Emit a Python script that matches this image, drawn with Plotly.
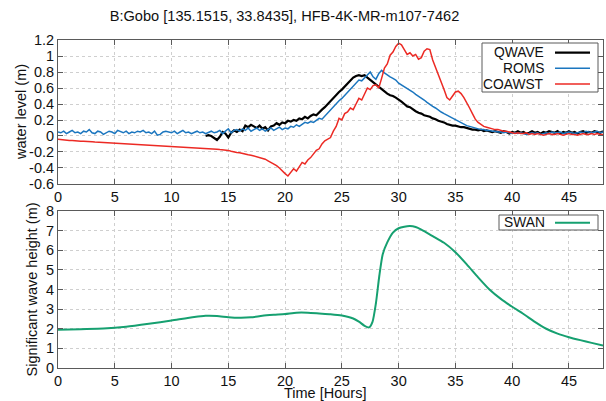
import numpy as np
import plotly.graph_objects as go

# ---------------- data ----------------
hours_full = np.arange(0, 48.001, 0.25)   # ROMS / COAWST time axis
hours_qwave = np.arange(13, 48.001, 0.25)  # QWAVE time axis

roms = [
    0.05, 0.04, 0.06, 0.03, 0.05, 0.07, 0.04, 0.05,
    0.03, 0.06, 0.05, 0.08, 0.04, 0.03, 0.06, 0.05,
    0.02, 0.04, 0.06, 0.05, 0.03, 0.07, 0.05, 0.04,
    0.06, 0.03, 0.05, 0.04, 0.06, 0.05, 0.07, 0.04,
    0.05, 0.03, 0.06, 0.01, 0.02, 0.05, 0.06, 0.05,
    0.04, 0.06, 0.03, 0.05, 0.07, 0.04, 0.05, 0.03,
    0.05, 0.06, 0.04, 0.05, 0.03, 0.05, 0.06, 0.04,
    0.05, 0.07, 0.03, 0.06, 0.09, 0.04, 0.07, 0.08,
    0.06, 0.09, 0.07, 0.10, 0.06, 0.08, 0.10, 0.07,
    0.09, 0.06, 0.08, 0.10, 0.07, 0.09, 0.11, 0.08,
    0.10, 0.09, 0.12, 0.11, 0.14, 0.12, 0.15, 0.17,
    0.16, 0.18, 0.17, 0.20, 0.22, 0.21, 0.25, 0.28,
    0.32, 0.36, 0.40, 0.44, 0.47, 0.51, 0.55, 0.58,
    0.63, 0.66, 0.70, 0.69, 0.73, 0.76, 0.80, 0.74,
    0.71, 0.78, 0.82, 0.79, 0.76, 0.74, 0.72, 0.70,
    0.66, 0.64, 0.62, 0.60, 0.57, 0.55, 0.52, 0.50,
    0.47, 0.45, 0.42, 0.39, 0.37, 0.35, 0.32, 0.30,
    0.28, 0.26, 0.24, 0.22, 0.20, 0.18, 0.16, 0.15,
    0.13, 0.12, 0.11, 0.10, 0.09, 0.08, 0.08, 0.07,
    0.07, 0.06, 0.06, 0.05, 0.05, 0.04, 0.05, 0.04,
    0.03, 0.04, 0.03, 0.04, 0.03, 0.02, 0.03, 0.04,
    0.03, 0.04, 0.02, 0.03, 0.04, 0.03, 0.05, 0.04,
    0.04, 0.05, 0.03, 0.04, 0.05, 0.04, 0.03, 0.04,
    0.05, 0.04, 0.06, 0.05, 0.04, 0.05, 0.06, 0.04,
    0.05,
]

coawst = [
    -0.040, -0.045, -0.050, -0.050, -0.055, -0.055, -0.060, -0.060,
    -0.065, -0.065, -0.070, -0.070, -0.072, -0.075, -0.077, -0.080,
    -0.080, -0.082, -0.085, -0.087, -0.090, -0.090, -0.092, -0.095,
    -0.097, -0.100, -0.100, -0.100, -0.102, -0.105, -0.107, -0.110,
    -0.110, -0.112, -0.115, -0.117, -0.120, -0.120, -0.122, -0.125,
    -0.127, -0.130, -0.130, -0.132, -0.135, -0.137, -0.140, -0.142,
    -0.145, -0.147, -0.150, -0.152, -0.155, -0.158, -0.160, -0.165,
    -0.165, -0.170, -0.172, -0.175, -0.180, -0.190, -0.200, -0.205,
    -0.210, -0.220, -0.225, -0.235, -0.240, -0.250, -0.260, -0.265,
    -0.280, -0.290, -0.310, -0.330, -0.340, -0.370, -0.400, -0.440,
    -0.470, -0.500, -0.450, -0.410, -0.440, -0.380, -0.330, -0.350,
    -0.300, -0.270, -0.220, -0.180, -0.160, -0.100, -0.060, -0.040,
    -0.020, 0.060, 0.120, 0.220, 0.200, 0.280, 0.300, 0.350,
    0.330, 0.400, 0.470, 0.450, 0.520, 0.600, 0.580, 0.630,
    0.640, 0.600, 0.720, 0.850, 0.900, 1.010, 1.050, 1.120,
    1.160, 1.140, 1.080, 1.020, 1.040, 1.000, 1.020, 0.960,
    0.980, 1.060, 1.090, 1.080, 0.950, 0.860, 0.780, 0.680,
    0.580, 0.480, 0.450, 0.500, 0.550, 0.560, 0.530, 0.480,
    0.420, 0.350, 0.280, 0.210, 0.170, 0.140, 0.120, 0.110,
    0.100, 0.090, 0.080, 0.080, 0.070, 0.060, 0.060, 0.050,
    0.040, 0.030, 0.040, 0.030, 0.030, 0.040, 0.020, 0.030,
    0.020, 0.030, 0.020, 0.010, 0.020, 0.030, 0.020, 0.020,
    0.030, 0.020, 0.010, 0.020, 0.030, 0.020, 0.020, 0.010,
    0.020, 0.030, 0.020, 0.020, 0.030, 0.020, 0.030, 0.020,
    0.020,
]

qwave = [
    0.00, 0.01, 0.00, -0.02, -0.05, -0.01, 0.05, 0.03,
    -0.02, 0.04, 0.07, 0.05, 0.08, 0.06, 0.13, 0.11,
    0.14, 0.12, 0.10, 0.13, 0.09, 0.11, 0.07, 0.12,
    0.13, 0.16, 0.14, 0.17, 0.16, 0.19, 0.18, 0.20,
    0.19, 0.22, 0.21, 0.24, 0.22, 0.25, 0.27, 0.26,
    0.30, 0.33, 0.36, 0.40, 0.43, 0.47, 0.51, 0.55,
    0.58, 0.62, 0.66, 0.70, 0.73, 0.75, 0.76, 0.75,
    0.76, 0.73, 0.70, 0.68, 0.65, 0.61, 0.58, 0.55,
    0.53, 0.51, 0.50, 0.48, 0.46, 0.43, 0.40, 0.37,
    0.36, 0.33, 0.31, 0.29, 0.28, 0.26, 0.25, 0.24,
    0.22, 0.21, 0.19, 0.18, 0.17, 0.15, 0.14, 0.13,
    0.13, 0.12, 0.11, 0.11, 0.10, 0.09, 0.08, 0.08,
    0.07, 0.08, 0.06, 0.07, 0.06, 0.05, 0.06, 0.05,
    0.04, 0.06, 0.05, 0.03, 0.05, 0.04, 0.06, 0.04,
    0.05, 0.03, 0.04, 0.06, 0.04, 0.05, 0.03, 0.05,
    0.04, 0.06, 0.05, 0.04, 0.06, 0.03, 0.05, 0.04,
    0.06, 0.04, 0.05, 0.03, 0.05, 0.06, 0.04, 0.05,
    0.04, 0.06, 0.05, 0.04, 0.06,
]

swan_hours = [0, 2, 4, 6, 8, 10, 12, 13, 14, 15, 16, 17, 18, 19, 20, 21, 22, 23, 24,
              25, 26, 26.5, 27, 27.4, 27.7, 28, 28.3, 28.6, 29, 29.5, 30, 30.5, 31,
              31.5, 32, 33, 34, 35, 36, 37, 38, 39, 40, 41, 42, 43, 44, 45, 46, 47, 48]
swan = [1.95, 1.98, 2.01, 2.10, 2.25, 2.42, 2.60, 2.66, 2.65, 2.59, 2.56, 2.58, 2.66,
        2.71, 2.75, 2.82, 2.82, 2.78, 2.74, 2.67, 2.52, 2.36, 2.15, 2.07, 2.35, 3.30,
        4.70, 5.80, 6.40, 6.90, 7.12, 7.20, 7.23, 7.18, 7.05, 6.72, 6.38, 5.90, 5.28,
        4.62, 4.00, 3.52, 3.12, 2.75, 2.35, 2.00, 1.75, 1.57, 1.42, 1.28, 1.15]

x_tickvals = [0, 5, 10, 15, 20, 25, 30, 35, 40, 45]
x_ticktext = ["0", "5", "10", "15", "20", "25", "30", "35", "40", "45"]
wl_tickvals = [1.2, 1.0, 0.8, 0.6, 0.4, 0.2, 0.0, -0.2, -0.4, -0.6]
wl_ticktext = ["1.2", "1", "0.8", "0.6", "0.4", "0.2", "0", "-0.2", "-0.4", "-0.6"]
hs_tickvals = [0, 1, 2, 3, 4, 5, 6, 7, 8]
hs_ticktext = ["0", "1", "2", "3", "4", "5", "6", "7", "8"]

series_names = ["QWAVE", "ROMS", "COAWST"]
wave_name = "SWAN"

assert len(roms) == len(hours_full)
assert len(coawst) == len(hours_full)
assert len(qwave) == len(hours_qwave)

# ---------------- style ----------------
C_Q, C_R, C_C, C_S = "#000000", "#1b76bf", "#ec2a24", "#16a070"
FONT = "Liberation Sans, Arial, sans-serif"
FRAME = "#5a5a5a"
GRID = "#cfcfcf"

fig = go.Figure()
fig.add_trace(go.Scatter(x=hours_qwave, y=qwave, mode="lines", name=series_names[0],
                         line=dict(color=C_Q, width=2.2), xaxis="x", yaxis="y"))
fig.add_trace(go.Scatter(x=hours_full, y=roms, mode="lines", name=series_names[1],
                         line=dict(color=C_R, width=1.5), xaxis="x", yaxis="y"))
fig.add_trace(go.Scatter(x=hours_full, y=coawst, mode="lines", name=series_names[2],
                         line=dict(color=C_C, width=1.5), xaxis="x", yaxis="y"))
fig.add_trace(go.Scatter(x=swan_hours, y=swan, mode="lines", name=wave_name,
                         line=dict(color=C_S, width=2, shape="spline", smoothing=0.6),
                         xaxis="x2", yaxis="y2"))

axis_common = dict(
    showline=True, linecolor=FRAME, linewidth=1, mirror="ticks",
    ticks="inside", ticklen=5, tickcolor=FRAME, tickwidth=1,
    showgrid=True, gridcolor=GRID, griddash="dot", gridwidth=1,
    zeroline=False, tickfont=dict(family=FONT, size=14.5, color="#111"),
    tickmode="array",
)

TOP_DOM = [0.561, 1.0]
BOT_DOM = [0.0, 0.4787]

fig.update_layout(
    width=606, height=401,
    margin=dict(l=58, r=3, t=40, b=33),
    paper_bgcolor="white", plot_bgcolor="white",
    showlegend=False,
    font=dict(family=FONT, size=14.5, color="#111"),
    title=dict(text="B:Gobo [135.1515, 33.8435], HFB-4K-MR-m107-7462",
               x=284.5 / 606, xanchor="center", y=1 - 16 / 401, yanchor="middle",
               xref="container", yref="container",
               font=dict(family=FONT, size=14.6, color="#111")),
    xaxis=dict(domain=[0, 1], anchor="y", range=[0, 48],
               tickvals=x_tickvals, ticktext=x_ticktext, **axis_common),
    yaxis=dict(domain=TOP_DOM, anchor="x", range=[-0.6, 1.2],
               tickvals=wl_tickvals, ticktext=wl_ticktext, **axis_common),
    xaxis2=dict(domain=[0, 1], anchor="y2", range=[0, 48],
                tickvals=x_tickvals, ticktext=x_ticktext, **axis_common),
    yaxis2=dict(domain=BOT_DOM, anchor="x2", range=[0, 8],
                tickvals=hs_tickvals, ticktext=hs_ticktext, **axis_common),
)

PH = 328.0  # plot-area height in px
PW = 545.0


def py(ypx):
    return (368 - ypx) / PH


def px(xpx):
    return (xpx - 58) / PW


anns = [
    dict(text="water level (m)", x=px(21), y=(TOP_DOM[0] + TOP_DOM[1]) / 2,
         textangle=-90, xanchor="center", yanchor="middle", size=14.5),
    dict(text="Significant wave height (m)", x=px(32), y=(BOT_DOM[0] + BOT_DOM[1]) / 2,
         textangle=-90, xanchor="center", yanchor="middle", size=14.5),
    dict(text="Time [Hours]", x=px(325), y=py(393), xanchor="center", yanchor="middle",
         size=14.5),
]

shapes = []
# legend for top panel (text then line sample, gnuplot-style)
shapes.append(dict(type="rect", xref="paper", yref="paper",
                   x0=px(482), x1=px(598), y0=py(92), y1=py(43),
                   line=dict(color=FRAME, width=1), fillcolor="white", layer="above"))
for name, col, wid, ypx in zip(series_names, [C_Q, C_R, C_C], [2.2, 1.5, 1.5],
                               [52.7, 68.3, 84.0]):
    anns.append(dict(text=name, x=px(546), y=py(ypx), xanchor="right", yanchor="middle",
                     size=13.8))
    shapes.append(dict(type="line", xref="paper", yref="paper",
                       x0=px(555), x1=px(590), y0=py(ypx), y1=py(ypx),
                       line=dict(color=col, width=wid), layer="above"))
# legend for bottom panel
shapes.append(dict(type="rect", xref="paper", yref="paper",
                   x0=px(499), x1=px(598), y0=py(230), y1=py(215),
                   line=dict(color=FRAME, width=1), fillcolor="white", layer="above"))
anns.append(dict(text=wave_name, x=px(547), y=py(222.7), xanchor="right", yanchor="middle",
                 size=13.8))
shapes.append(dict(type="line", xref="paper", yref="paper",
                   x0=px(555), x1=px(590), y0=py(222.7), y1=py(222.7),
                   line=dict(color=C_S, width=2), layer="above"))

for a in anns:
    sz = a.pop("size")
    a.update(xref="paper", yref="paper", showarrow=False,
             font=dict(family=FONT, size=sz, color="#111"))

fig.update_layout(annotations=anns, shapes=shapes)
fig.write_html("out.html", config={"displayModeBar": False},
               post_script="document.body.style.margin='0';")
